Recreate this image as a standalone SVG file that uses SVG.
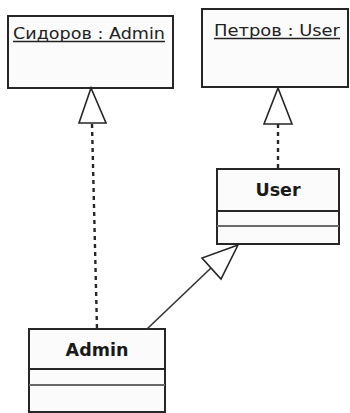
<svg xmlns="http://www.w3.org/2000/svg" width="350" height="413" viewBox="0 0 350 413">
  <style>
    .box { fill: #fbfbfb; stroke: #262626; stroke-width: 2; }
    .div1 { stroke: #262626; stroke-width: 2; }
    .div2 { stroke: #6a6a6a; stroke-width: 2.2; }
    .obj { font-family: "DejaVu Sans", Verdana, sans-serif; font-size: 15px; fill: #222; }
    .uline { stroke: #222; stroke-width: 1.4; }
    .cls { font-family: "DejaVu Sans", Verdana, sans-serif; font-size: 17.5px; font-weight: bold; fill: #1a1a1a; text-anchor: middle; }
    .dash { stroke: #262626; stroke-width: 2.4; stroke-dasharray: 4 4; fill: none; }
    .solid { stroke: #333; stroke-width: 1.6; fill: none; }
    .head { fill: #fff; stroke: #262626; stroke-width: 1.6; stroke-linejoin: miter; }
  </style>
  <rect width="350" height="413" fill="#ffffff"/>

  <!-- object: Сидоров -->
  <g id="sidorov">
    <rect class="box" x="8" y="16" width="165" height="72"/>
    <text class="obj" x="13" y="38.5" textLength="152" lengthAdjust="spacingAndGlyphs">Сидоров : Admin</text>
    <line class="uline" x1="13" y1="41.5" x2="165" y2="41.5"/>
  </g>

  <!-- object: Петров -->
  <g id="petrov">
    <rect class="box" x="202" y="9" width="146" height="78"/>
    <text class="obj" x="214" y="35.5" textLength="126" lengthAdjust="spacingAndGlyphs">Петров : User</text>
    <line class="uline" x1="214" y1="38.5" x2="340" y2="38.5"/>
  </g>

  <!-- class User -->
  <g id="user">
    <rect class="box" x="217" y="169" width="122" height="75"/>
    <line class="div1" x1="217" y1="211" x2="339" y2="211"/>
    <line class="div2" x1="217" y1="226" x2="339" y2="226"/>
    <text class="cls" x="278" y="196">User</text>
  </g>

  <!-- class Admin -->
  <g id="admin">
    <rect class="box" x="29" y="329" width="136" height="83"/>
    <line class="div1" x1="29" y1="369" x2="165" y2="369"/>
    <line class="div2" x1="29" y1="385" x2="165" y2="385"/>
    <text class="cls" x="97" y="356">Admin</text>
  </g>

  <!-- connectors -->
  <g id="connectors">
    <!-- Сидоров instance-of Admin -->
    <line class="dash" x1="92" y1="124" x2="97" y2="329"/>
    <polygon class="head" points="91,88 79,123 106,123"/>
    <!-- Петров instance-of User -->
    <line class="dash" x1="278" y1="124" x2="278" y2="169"/>
    <polygon class="head" points="278,88 264,124 292,124"/>
    <!-- Admin generalizes to User -->
    <line class="solid" x1="147" y1="329" x2="211" y2="268"/>
    <polygon class="head" points="238,245 202,258 221,279"/>
  </g>
</svg>
